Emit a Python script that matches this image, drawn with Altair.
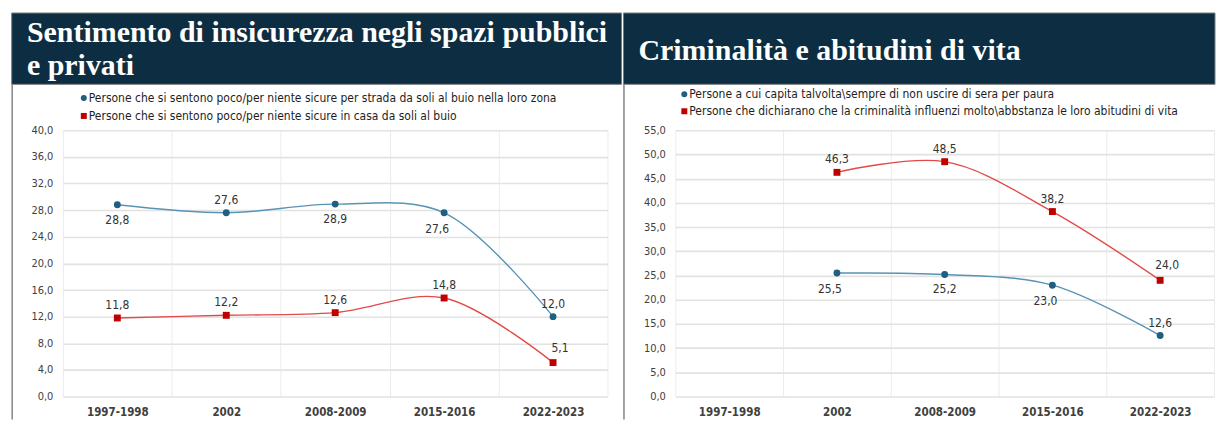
import altair as alt
import pandas as pd

periods = ["1997-1998", "2002", "2008-2009", "2015-2016", "2022-2023"]

left_title = ["Sentimento di insicurezza negli spazi pubblici", "e privati"]
left_series = [
    "Persone che si sentono poco/per niente sicure per strada da soli al buio nella loro zona",
    "Persone che si sentono poco/per niente sicure in casa da soli al buio",
]
left_street = [28.8, 27.6, 28.9, 27.6, 12.0]
left_home = [11.8, 12.2, 12.6, 14.8, 5.1]
left_street_pos = ["below", "above", "below", "below-left", "above"]
left_home_pos = ["above", "above", "above", "above", "above-right"]

right_title = ["Criminalità e abitudini di vita"]
right_series = [
    "Persone a cui capita talvolta\\sempre di non uscire di sera per paura",
    "Persone che dichiarano che la criminalità influenzi molto\\abbstanza le loro abitudini di vita",
]
right_nogoout = [None, 25.5, 25.2, 23.0, 12.6]
right_influence = [None, 46.3, 48.5, 38.2, 24.0]
right_nogoout_pos = [None, "below-left", "below", "below-left", "above"]
right_influence_pos = [None, "above", "above", "above", "above-right"]

# styles
HEADER = "#0d2e42"
BLUE_MK = "#1f5f80"
BLUE_LN = "#5794b3"
RED_MK = "#c00000"
RED_LN = "#e24a4a"
NARROW = "Liberation Sans Narrow, Arial Narrow, DejaVu Sans Condensed, sans-serif"
SERIF = "Liberation Serif, DejaVu Serif, serif"
OFFS = {"above": (0, -13), "below": (0, 15), "below-left": (-7, 16), "above-right": (7, -15)}


def one_row(**kw):
    return pd.DataFrame({k: [v] for k, v in kw.items()} if kw else {"k": [0]})


def panel(title_lines, title_x, title_y, names, vals_a, vals_b, pos_a, pos_b,
          ymax, ystep, width, height, hdr_x, hdr_x2, leg_x, leg_y, leg_gap):
    rows = []
    for name, vals, poss in ((names[0], vals_a, pos_a), (names[1], vals_b, pos_b)):
        for p, v, ps in zip(periods, vals, poss):
            if v is None:
                continue
            rows.append(dict(period=p, value=v, series=name,
                             label=f"{v:.1f}".replace(".", ","), pos=ps))
    df = pd.DataFrame(rows)

    x = alt.X("period:N", sort=periods, bandPosition=0.5,
              scale=alt.Scale(type="band", domain=periods, paddingInner=0, paddingOuter=0),
              axis=alt.Axis(title=None, labelAngle=0, tickBand="extent", grid=True,
                            gridColor="#ececec", gridWidth=1, domain=False, ticks=False,
                            labelPadding=10, labelFontWeight="bold", labelFontSize=11.5))
    y = alt.Y("value:Q", scale=alt.Scale(domain=[0, ymax], nice=False, zero=True),
              axis=alt.Axis(title=None, values=list(range(0, ymax + 1, ystep)),
                            labelExpr="replace(format(datum.value, '.1f'), '.', ',')",
                            domain=False, ticks=False, gridColor="#e2e2e2", gridWidth=1.6,
                            labelPadding=10, labelFontSize=11))

    base = alt.Chart(df)
    lines = base.mark_line(interpolate="catmull-rom", strokeWidth=1.4).encode(
        x=x, y=y,
        stroke=alt.Stroke("series:N", scale=alt.Scale(domain=names, range=[BLUE_LN, RED_LN]),
                          legend=None),
    )
    points = base.mark_point(filled=True, size=48, opacity=1).encode(
        x=x, y=y,
        fill=alt.Fill("series:N", scale=alt.Scale(domain=names, range=[BLUE_MK, RED_MK]), legend=None),
        shape=alt.Shape("series:N", scale=alt.Scale(domain=names, range=["circle", "square"]), legend=None),
    )
    label_layers = []
    for key, (dx, dy) in OFFS.items():
        label_layers.append(
            base.transform_filter(alt.datum.pos == key).mark_text(
                font=NARROW, fontSize=12, color="#333333", dx=dx, dy=dy
            ).encode(x=x, y=y, text="label:N")
        )

    # legend (drawn as marks above the plot)
    legend_layers = []
    for i, (name, shp, col) in enumerate(zip(names, ["circle", "square"], [BLUE_MK, RED_MK])):
        ly = leg_y + i * leg_gap
        legend_layers.append(
            alt.Chart(one_row(name=name)).mark_point(shape=shp, filled=True, size=36, color=col, opacity=1)
            .encode(x=alt.value(leg_x), y=alt.value(ly)))
        legend_layers.append(
            alt.Chart(one_row(name=name)).mark_text(align="left", baseline="middle", font=NARROW,
                                                     fontSize=12, color="#1e1e1e")
            .encode(x=alt.value(leg_x + 5), y=alt.value(ly), text="name:N"))

    header = alt.Chart(one_row()).mark_rect(color=HEADER, stroke="#7a7a7a", strokeWidth=1).encode(
        x=alt.value(hdr_x), x2=alt.value(hdr_x2), y=alt.value(-117.5), y2=alt.value(-46))
    htext = alt.Chart(one_row()).mark_text(
        align="left", baseline="alphabetic", font=SERIF, fontWeight="bold",
        fontSize=30, color="white", lineHeight=33).encode(
        x=alt.value(title_x), y=alt.value(title_y), text=alt.value(title_lines))
    border = alt.Chart(one_row()).mark_rule(color="#8c8c8c", strokeWidth=1.6).encode(
        x=alt.value(hdr_x + 0.5), y=alt.value(-46), y2=alt.value(height + 23))

    return alt.layer(header, htext, border, lines, points, *label_layers, *legend_layers).properties(
        width=width, height=height)


left = panel(left_title, -36, -88, left_series, left_street, left_home,
             left_street_pos, left_home_pos, 40, 4, 546, 267, -51.3, 560, 21, -32.3, 18)
right = panel(right_title, -37, -70, right_series, right_nogoout, right_influence,
              right_nogoout_pos, right_influence_pos, 55, 5, 540, 267, -52, 541, 9, -36, 17)

chart = alt.hconcat(left, right, spacing=0).resolve_scale(
    stroke="independent", fill="independent", shape="independent"
).properties(
    padding={"left": 3, "top": 4, "right": 0, "bottom": 0}, background="white"
).configure_view(stroke=None).configure_axis(
    labelFont=NARROW, labelColor="#404040"
)

chart.save("out.html", embed_options={"renderer": "svg", "actions": False})
